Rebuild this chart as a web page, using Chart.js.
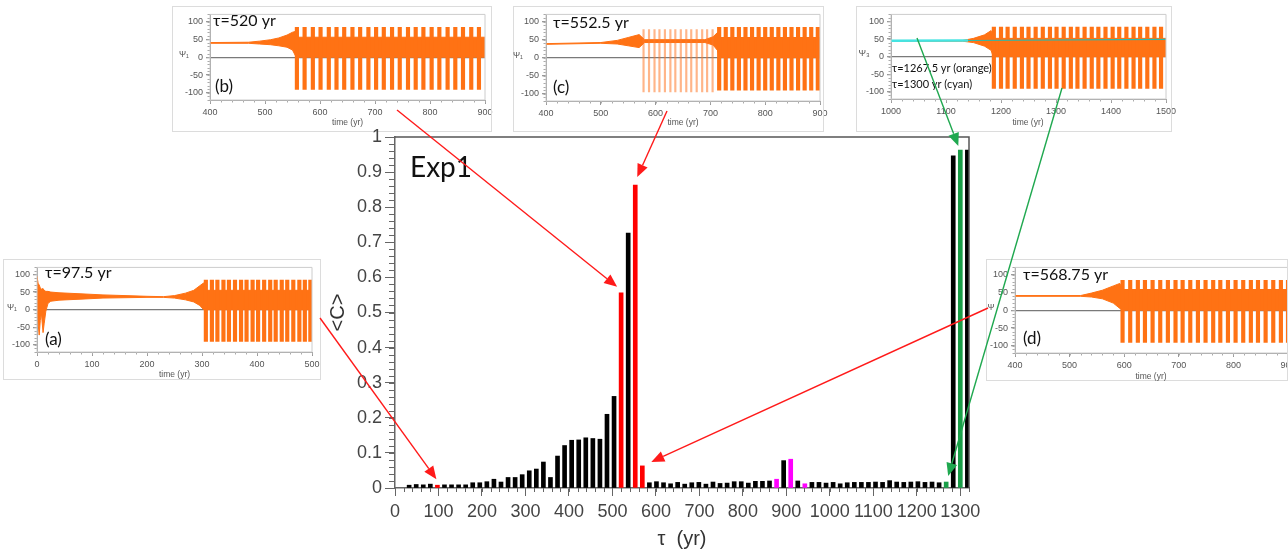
<!DOCTYPE html>
<html>
<head>
<meta charset="utf-8">
<script src="https://cdn.jsdelivr.net/npm/chart.js@4.4.1/dist/chart.umd.min.js"></script>
<style>
  body { margin: 0; background: #fff; }
  #page { position: relative; width: 1288px; height: 549px; overflow: hidden; }
  canvas { position: absolute; }
  #main { left: 0; top: 0; z-index: 2; pointer-events: none; }
  .inset { z-index: 1; }
</style>
</head>
<body>
<div id="page">
  <canvas id="insetA" class="inset"></canvas>
  <canvas id="insetB" class="inset"></canvas>
  <canvas id="insetC" class="inset"></canvas>
  <canvas id="insetE" class="inset"></canvas>
  <canvas id="insetD" class="inset"></canvas>
  <canvas id="main" width="1288" height="549"></canvas>
</div>
<script>
// main panel: <C> against tau
var taus = [32.5, 48.75, 65, 81.25, 97.5, 113.75, 130, 146.25, 162.5, 178.75,
    195, 211.25, 227.5, 243.75, 260, 276.25, 292.5, 308.75, 325, 341.25,
    357.5, 373.75, 390, 406.25, 422.5, 438.75, 455, 471.25, 487.5, 503.75,
    520, 536.25, 552.5, 568.75, 585, 601.25, 617.5, 633.75, 650, 666.25,
    682.5, 698.75, 715, 731.25, 747.5, 763.75, 780, 796.25, 812.5, 828.75,
    845, 861.25, 877.5, 893.75, 910, 926.25, 942.5, 958.75, 975, 991.25,
    1007.5, 1023.75, 1040, 1056.25, 1072.5, 1088.75, 1105, 1121.25, 1137.5, 1153.75,
    1170, 1186.25, 1202.5, 1218.75, 1235, 1251.25, 1267.5, 1283.75, 1300, 1316.25];
var meanC = [0.008, 0.010, 0.009, 0.011, 0.008, 0.009, 0.009, 0.009, 0.009, 0.015,
    0.015, 0.018, 0.025, 0.017, 0.030, 0.030, 0.038, 0.049, 0.054, 0.074,
    0.030, 0.091, 0.121, 0.136, 0.137, 0.143, 0.141, 0.139, 0.210, 0.261,
    0.556, 0.726, 0.863, 0.063, 0.015, 0.018, 0.015, 0.012, 0.016, 0.011,
    0.015, 0.016, 0.011, 0.017, 0.013, 0.014, 0.018, 0.018, 0.014, 0.019,
    0.019, 0.020, 0.025, 0.078, 0.082, 0.020, 0.012, 0.016, 0.016, 0.014,
    0.016, 0.012, 0.015, 0.016, 0.016, 0.016, 0.017, 0.016, 0.021, 0.017,
    0.016, 0.017, 0.018, 0.016, 0.017, 0.015, 0.017, 0.946, 0.963, 0.963];
var redTaus = [97.5, 520, 552.5, 568.75];
var magentaTaus = [877.5, 910, 942.5];
var greenTaus = [1267.5, 1300];
var xTickValues = [0, 100, 200, 300, 400, 500, 600, 700, 800, 900, 1000, 1100, 1200, 1300];
var yTickValues = [0, 0.1, 0.2, 0.3, 0.4, 0.5, 0.6, 0.7, 0.8, 0.9, 1];

// arrows from the insets to the bars they show
var arrows = [
    { from: [397, 110], tau: 520, dx: -4, dy: -6, color: '#ff1a1a' },
    { from: [667, 111], tau: 552.5, dx: 2, dy: -8, color: '#ff1a1a' },
    { from: [320, 318], tau: 97.5, dx: -1, dy: -6, color: '#ff1a1a' },
    { from: [988, 308], tau: 568.75, dx: 9, dy: -4, color: '#ff1a1a' },
    { from: [917, 38], tau: 1300, dx: -2, dy: -4, color: '#1fa84f' },
    { from: [1062, 88], tau: 1267.5, dx: 2, dy: -6, color: '#1fa84f' }
];

// insets: envelope of Psi (time, upper, lower) + full swings (spikes)
var aTime = [0, 2, 4, 6, 8, 11, 13, 16, 20, 25, 40, 80, 120, 160, 200, 230, 250, 270, 285, 296, 303, 306, 500];
var aUpper = [95, 75, 70, 62, 58, 60, 55, 52, 52, 50, 48, 45, 42, 40, 38, 37, 40, 47, 55, 68, 76, 55, 55];
var aLower = [20, -40, -72, -30, -10, -65, -40, -5, 18, 24, 27, 30, 33, 34, 35, 35, 33, 28, 22, 12, 0, 0, 0];
var aSpikes = [307, 318, 328, 339, 349, 360, 371, 381, 392, 402, 413, 424, 434, 445, 455, 466, 477, 487, 497];

var bTime = [400, 470, 490, 510, 525, 540, 550, 555, 558, 900];
var bUpper = [41, 42, 45, 49, 54, 62, 70, 72, 56, 56];
var bLower = [39, 39, 37, 35, 32, 28, 20, 5, 0, 0];
var bSpikes = [558, 572, 587, 601, 616, 630, 644, 659, 673, 688, 702, 716, 731, 745, 760, 774, 788, 803, 817, 832, 846, 860, 875, 889];

var cTime = [400, 500, 530, 550, 570, 580, 690, 705, 713, 718, 900];
var cUpper = [39, 42, 48, 56, 64, 50, 50, 58, 70, 56, 56];
var cLower = [37, 40, 38, 33, 28, 42, 42, 35, 20, 0, 0];
var cLightSpikes = [578, 588, 598, 607, 617, 627, 636, 646, 656, 665, 675, 685, 694, 704];
var cSpikes = [716, 728, 740, 752, 764, 776, 788, 800, 812, 824, 836, 848, 860, 872, 884, 896];

var eTime = [1000, 1130, 1150, 1170, 1182, 1186, 1500];
var eUpper = [46, 46, 52, 62, 74, 52, 52];
var eLower = [44, 44, 40, 30, 18, 0, 0];
var eSpikes = [1187, 1200, 1212, 1225, 1238, 1250, 1263, 1276, 1289, 1301, 1314, 1327, 1339, 1352, 1365, 1377, 1390, 1403, 1415, 1428, 1441, 1453, 1466, 1479, 1491];
var eCyanTime = [1000, 1140, 1500];
var eCyan = [45, 46, 49];

var dTime = [400, 520, 540, 560, 580, 592, 597, 900];
var dUpper = [41, 41, 48, 56, 68, 75, 58, 58];
var dLower = [39, 39, 37, 32, 20, 5, 0, 0];
var dSpikes = [597, 611, 625, 638, 652, 666, 680, 694, 707, 721, 735, 749, 763, 776, 790, 804, 818, 832, 845, 859, 873, 887, 900];

var psiTicks = [-100, -50, 0, 50, 100];

var ORANGE = '#ff7214';

function barColor(t) {
    if (redTaus.indexOf(t) >= 0) return '#ff0000';
    if (magentaTaus.indexOf(t) >= 0) return '#ff00ff';
    if (greenTaus.indexOf(t) >= 0) return '#1a9e48';
    return '#000000';
}

function plainLabel(v) { return String(v); }

var minorTicks = {
    id: 'minorTicks',
    afterDraw: function (chart, args, o) {
        if (!o || !o.xStep) return;
        var ctx = chart.ctx, a = chart.chartArea;
        var xs = chart.scales.x, ys = chart.scales.y;
        ctx.save();
        ctx.strokeStyle = o.color;
        ctx.lineWidth = 1;
        ctx.beginPath();
        for (var v = xs.min; v <= xs.max + 1e-6; v += o.xStep) {
            var px = Math.round(xs.getPixelForValue(v)) + 0.5;
            ctx.moveTo(px, a.bottom);
            ctx.lineTo(px, a.bottom + o.xLen);
        }
        for (var w = o.yFrom; w <= ys.max + 1e-6; w += o.yStep) {
            if (w < ys.min) continue;
            var py = Math.round(ys.getPixelForValue(w)) + 0.5;
            ctx.moveTo(a.left, py);
            ctx.lineTo(a.left - o.yLen, py);
        }
        ctx.stroke();
        ctx.restore();
    }
};

var frame = {
    id: 'frame',
    afterDraw: function (chart, args, o) {
        if (!o || !o.color) return;
        var ctx = chart.ctx, a = chart.chartArea;
        ctx.save();
        ctx.strokeStyle = o.color;
        ctx.lineWidth = o.width;
        ctx.beginPath();
        ctx.moveTo(a.left, a.top);
        ctx.lineTo(a.right, a.top);
        ctx.lineTo(a.right, a.bottom);
        if (o.all) {
            ctx.lineTo(a.left, a.bottom);
            ctx.closePath();
        }
        ctx.stroke();
        if (o.box) {
            ctx.strokeStyle = o.box;
            ctx.lineWidth = 1;
            ctx.strokeRect(0.5, 0.5, o.boxW - 1, chart.height - 1);
        }
        ctx.restore();
    }
};

var texts = {
    id: 'texts',
    afterDraw: function (chart, args, o) {
        if (!o || !o.items) return;
        var ctx = chart.ctx;
        ctx.save();
        o.items.forEach(function (it) {
            ctx.font = it.font;
            ctx.fillStyle = it.color || '#111';
            ctx.textAlign = it.align || 'left';
            ctx.textBaseline = 'middle';
            ctx.fillText(it.text, it.x - o.ox, it.y - o.oy);
        });
        ctx.restore();
    }
};

var arrowPlugin = {
    id: 'arrowPlugin',
    afterDraw: function (chart, args, o) {
        if (!o || !o.list) return;
        var ctx = chart.ctx;
        var xs = chart.scales.x, ys = chart.scales.y;
        o.list.forEach(function (ar) {
            var i = taus.indexOf(ar.tau);
            var tx = xs.getPixelForValue(ar.tau) + ar.dx;
            var ty = ys.getPixelForValue(meanC[i]) + ar.dy;
            var fx = ar.from[0], fy = ar.from[1];
            var ang = Math.atan2(ty - fy, tx - fx);
            var len = 13, half = 5.5;
            var bx = tx - len * Math.cos(ang), by = ty - len * Math.sin(ang);
            ctx.save();
            ctx.strokeStyle = ar.color;
            ctx.fillStyle = ar.color;
            ctx.lineWidth = 1.4;
            ctx.beginPath();
            ctx.moveTo(fx, fy);
            ctx.lineTo(bx, by);
            ctx.stroke();
            ctx.beginPath();
            ctx.moveTo(tx, ty);
            ctx.lineTo(bx + half * Math.sin(ang), by - half * Math.cos(ang));
            ctx.lineTo(bx - half * Math.sin(ang), by + half * Math.cos(ang));
            ctx.closePath();
            ctx.fill();
            ctx.restore();
        });
    }
};

Chart.register(minorTicks, frame, texts, arrowPlugin);

var tickFont = { family: "'Liberation Sans', Arial, sans-serif", size: 18 };

new Chart(document.getElementById('main'), {
    type: 'bar',
    data: {
        datasets: [{
            data: taus.map(function (t, i) { return { x: t, y: meanC[i] }; }),
            backgroundColor: taus.map(barColor),
            barThickness: 4
        }]
    },
    options: {
        responsive: false,
        animation: false,
        devicePixelRatio: 1,
        layout: { padding: { left: 322, top: 137, right: 319, bottom: 0 }, autoPadding: false },
        plugins: {
            legend: { display: false },
            tooltip: { enabled: false },
            minorTicks: { xStep: 20, xLen: 4, yFrom: 0, yStep: 0.02, yLen: 6, color: '#666' },
            frame: { color: '#555', width: 1.5 },
            texts: {
                ox: 0, oy: 0,
                items: [{ text: 'Exp1', x: 410, y: 168, font: "28px Lato, sans-serif", color: '#111' }]
            },
            arrowPlugin: { list: arrows }
        },
        scales: {
            x: {
                type: 'linear',
                min: 0,
                max: 1320,
                offset: false,
                afterBuildTicks: function (s) { s.ticks = xTickValues.map(function (v) { return { value: v }; }); },
                afterFit: function (s) { s.height = 61; },
                grid: { drawOnChartArea: false, offset: false, tickLength: 8, color: '#666' },
                border: { display: true, color: '#666', width: 1.5 },
                ticks: { font: tickFont, color: '#444', padding: 5, maxRotation: 0, autoSkip: false, callback: plainLabel },
                title: {
                    display: true, text: 'τ  (yr)', color: '#333',
                    font: { family: "'Liberation Sans', Arial, sans-serif", size: 20, lineHeight: 1 },
                    padding: { top: 0, bottom: 0 }
                }
            },
            y: {
                min: 0,
                max: 1,
                afterBuildTicks: function (s) { s.ticks = yTickValues.map(function (v) { return { value: v }; }); },
                afterFit: function (s) { s.width = 73; },
                grid: { drawOnChartArea: false, tickLength: 10, color: '#666' },
                border: { display: true, color: '#666', width: 1.5 },
                ticks: { font: tickFont, color: '#444', padding: 3, callback: plainLabel },
                title: {
                    display: true, text: '<C>', color: '#333',
                    font: { family: "'Liberation Sans', Arial, sans-serif", size: 20, lineHeight: 1 },
                    padding: { top: 6, bottom: 0 }
                }
            }
        }
    }
});

function makeInset(id, spec) {
    var canvas = document.getElementById(id);
    var b = spec.box, ar = spec.area;
    var extra = 14; // room on the right for the last tick label
    canvas.width = b.w + extra;
    canvas.height = b.h;
    canvas.style.left = b.x + 'px';
    canvas.style.top = b.y + 'px';
    var yW = 28, xH = 22;
    var datasets = [];
    if (spec.cyanTime) {
        datasets.push({
            type: 'line', order: 0,
            data: spec.cyanTime.map(function (t, i) { return { x: t, y: spec.cyan[i] }; }),
            borderColor: '#45e4e2', borderWidth: 2.5, pointRadius: 0, fill: false,
            segment: {
                borderWidth: function (c) { return c.p0DataIndex === 0 ? 2.5 : 1.2; },
                borderColor: function (c) { return c.p0DataIndex === 0 ? '#45e4e2' : '#2fb8a8'; }
            }
        });
    }
    if (spec.lightSpikes) {
        datasets.push({
            type: 'bar', order: 2, grouped: false,
            data: spec.lightSpikes.map(function (t) { return { x: t, y: [-95, 78] }; }),
            backgroundColor: 'rgba(255,120,40,0.55)', barThickness: 1.5
        });
    }
    datasets.push({
        type: 'bar', order: 1, grouped: false,
        data: spec.spikes.map(function (t) { return { x: t, y: [-90, 84] }; }),
        backgroundColor: ORANGE, barThickness: 3.5
    });
    datasets.push({
        type: 'line', order: 3,
        data: spec.time.map(function (t, i) { return { x: t, y: spec.upper[i] }; }),
        borderColor: ORANGE, backgroundColor: ORANGE, borderWidth: 1,
        pointRadius: 0, fill: '+1', tension: 0
    });
    datasets.push({
        type: 'line', order: 4,
        data: spec.time.map(function (t, i) { return { x: t, y: spec.lower[i] }; }),
        borderColor: ORANGE, borderWidth: 1, pointRadius: 0, fill: false, tension: 0
    });
    var small = { family: "'Liberation Sans', Arial, sans-serif", size: 9 };
    new Chart(canvas, {
        type: 'line',
        data: { datasets: datasets },
        options: {
            responsive: false,
            animation: false,
            devicePixelRatio: 1,
            layout: {
                autoPadding: false,
                padding: {
                    left: ar.left - b.x - yW,
                    right: b.x + b.w + extra - ar.right,
                    top: ar.top - b.y,
                    bottom: b.y + b.h - ar.bottom - xH
                }
            },
            plugins: {
                legend: { display: false },
                tooltip: { enabled: false },
                minorTicks: { xStep: 20, xLen: 2.5, yFrom: -120, yStep: 10, yLen: 2.5, color: '#aaa' },
                frame: { color: '#ccc', width: 1, all: true, box: '#dcdcdc', boxW: b.w },
                texts: { ox: b.x, oy: b.y, items: spec.texts }
            },
            scales: {
                x: {
                    type: 'linear',
                    min: spec.xMin,
                    max: spec.xMax,
                    offset: false,
                    afterBuildTicks: function (s) { s.ticks = spec.xTicks.map(function (v) { return { value: v }; }); },
                    afterFit: function (s) { s.height = xH; },
                    grid: { drawOnChartArea: false, offset: false, tickLength: 4, color: '#999' },
                    border: { display: true, color: '#999', width: 1 },
                    ticks: { font: small, color: '#555', padding: 3, maxRotation: 0, autoSkip: false, callback: plainLabel }
                },
                y: {
                    min: -120,
                    max: 120,
                    afterBuildTicks: function (s) { s.ticks = psiTicks.map(function (v) { return { value: v }; }); },
                    afterFit: function (s) { s.width = yW; },
                    grid: {
                        tickLength: 4,
                        lineWidth: 1.3,
                        tickColor: '#999',
                        color: function (c) { return c.tick && c.tick.value === 0 ? '#7a7a7a' : 'rgba(0,0,0,0)'; }
                    },
                    border: { display: true, color: '#999', width: 1 },
                    ticks: { font: small, color: '#555', padding: 3, callback: plainLabel }
                }
            }
        }
    });
}

var labelFont = "16px Lato, sans-serif";
var tagFont = "17px Lato, sans-serif";
var tinyFont = "8.5px 'Liberation Sans', Arial, sans-serif";

makeInset('insetA', {
    box: { x: 3, y: 259, w: 318, h: 121 },
    area: { left: 37, right: 312, top: 263, bottom: 352 },
    xMin: 0, xMax: 500, xTicks: [0, 100, 200, 300, 400, 500],
    time: aTime, upper: aUpper, lower: aLower, spikes: aSpikes,
    texts: [
        { text: 'τ=97.5 yr', x: 45, y: 272.5, font: labelFont },
        { text: '(a)', x: 45, y: 339.5, font: tagFont },
        { text: 'Ψ₁', x: 12, y: 308, font: tinyFont, color: '#555', align: 'center' },
        { text: 'time (yr)', x: 174.5, y: 375, font: tinyFont, color: '#555', align: 'center' }
    ]
});

makeInset('insetB', {
    box: { x: 172, y: 6, w: 320, h: 126 },
    area: { left: 210, right: 485, top: 10, bottom: 100 },
    xMin: 400, xMax: 900, xTicks: [400, 500, 600, 700, 800, 900],
    time: bTime, upper: bUpper, lower: bLower, spikes: bSpikes,
    texts: [
        { text: 'τ=520 yr', x: 213, y: 20.5, font: labelFont },
        { text: '(b)', x: 215, y: 86.5, font: tagFont },
        { text: 'Ψ₁', x: 184, y: 55, font: tinyFont, color: '#555', align: 'center' },
        { text: 'time (yr)', x: 347.5, y: 123, font: tinyFont, color: '#555', align: 'center' }
    ]
});

makeInset('insetC', {
    box: { x: 513, y: 6, w: 311, h: 126 },
    area: { left: 546, right: 820, top: 11, bottom: 101 },
    xMin: 400, xMax: 900, xTicks: [400, 500, 600, 700, 800, 900],
    time: cTime, upper: cUpper, lower: cLower, spikes: cSpikes, lightSpikes: cLightSpikes,
    texts: [
        { text: 'τ=552.5 yr', x: 553, y: 22.5, font: labelFont },
        { text: '(c)', x: 553, y: 87.5, font: tagFont },
        { text: 'Ψ₁', x: 518, y: 56, font: tinyFont, color: '#555', align: 'center' },
        { text: 'time (yr)', x: 683, y: 123, font: tinyFont, color: '#555', align: 'center' }
    ]
});

makeInset('insetE', {
    box: { x: 856, y: 6, w: 316, h: 126 },
    area: { left: 891, right: 1166, top: 10, bottom: 99 },
    xMin: 1000, xMax: 1500, xTicks: [1000, 1100, 1200, 1300, 1400, 1500],
    time: eTime, upper: eUpper, lower: eLower, spikes: eSpikes,
    cyanTime: eCyanTime, cyan: eCyan,
    texts: [
        { text: 'τ=1267.5 yr (orange)', x: 892, y: 68, font: "11px Lato, sans-serif" },
        { text: 'τ=1300 yr (cyan)', x: 892, y: 84.5, font: "11px Lato, sans-serif" },
        { text: 'Ψ₃', x: 864, y: 54, font: "9px 'Liberation Sans', Arial, sans-serif", color: '#555', align: 'center' },
        { text: 'time (yr)', x: 1028, y: 123, font: tinyFont, color: '#555', align: 'center' }
    ]
});

makeInset('insetD', {
    box: { x: 986, y: 259, w: 302, h: 122 },
    area: { left: 1015, right: 1288, top: 264, bottom: 353 },
    xMin: 400, xMax: 900, xTicks: [400, 500, 600, 700, 800, 900],
    time: dTime, upper: dUpper, lower: dLower, spikes: dSpikes,
    texts: [
        { text: 'τ=568.75 yr', x: 1023, y: 275, font: labelFont },
        { text: '(d)', x: 1023, y: 338.5, font: tagFont },
        { text: 'Ψ', x: 991, y: 308, font: tinyFont, color: '#555', align: 'center' },
        { text: 'time (yr)', x: 1151, y: 377, font: tinyFont, color: '#555', align: 'center' }
    ]
});
</script>
</body>
</html>
